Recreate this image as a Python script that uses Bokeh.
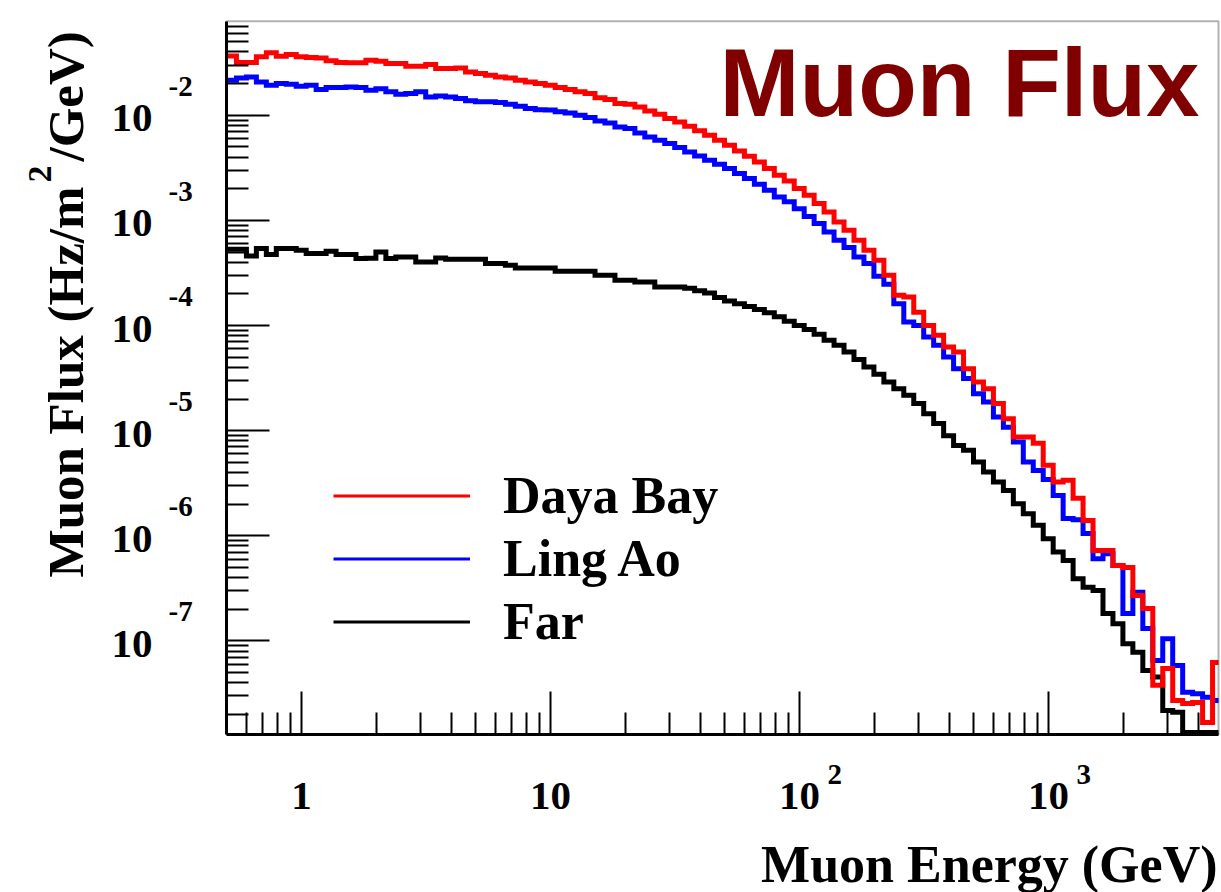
import math
import numpy as np
from bokeh.plotting import figure
from bokeh.models import (Range1d, FixedTicker, Label, Legend, LegendItem, ColumnDataSource,
                          CustomJSTickFormatter, BoxAnnotation, LogScale, LogAxis)
from bokeh.embed import file_html
from bokeh.resources import INLINE

# ---------------- data ----------------
bin_low = 0.5
bin_high = 5000.0
n_bins = 100

daya_bay = [3.66e-2, 3.17e-2, 3.17e-2, 3.59e-2, 3.92e-2, 3.64e-2, 3.78e-2, 3.59e-2, 3.54e-2, 3.51e-2,
            3.29e-2, 3.17e-2, 3.15e-2, 3.15e-2, 3.34e-2, 3.26e-2, 3.10e-2, 3.10e-2, 2.92e-2, 2.92e-2,
            3.04e-2, 2.78e-2, 2.78e-2, 2.82e-2, 2.58e-2, 2.49e-2, 2.40e-2, 2.31e-2, 2.26e-2, 2.15e-2,
            2.07e-2, 2.00e-2, 1.93e-2, 1.84e-2, 1.76e-2, 1.67e-2, 1.61e-2, 1.47e-2, 1.41e-2, 1.29e-2,
            1.27e-2, 1.20e-2, 1.10e-2, 1.02e-2, 9.31e-3, 8.63e-3, 7.85e-3, 7.10e-3, 6.45e-3, 5.78e-3,
            5.19e-3, 4.57e-3, 4.07e-3, 3.60e-3, 3.11e-3, 2.69e-3, 2.37e-3, 2.01e-3, 1.73e-3, 1.45e-3,
            1.20e-3, 9.66e-4, 8.05e-4, 6.47e-4, 5.20e-4, 4.17e-4, 3.01e-4, 1.94e-4, 1.87e-4, 1.34e-4,
            1.00e-4, 8.07e-5, 6.24e-5, 5.60e-5, 3.89e-5, 2.90e-5, 2.51e-5, 1.81e-5, 1.30e-5, 8.69e-6,
            8.69e-6, 7.57e-6, 4.68e-6, 3.24e-6, 3.37e-6, 2.27e-6, 1.40e-6, 7.26e-7, 7.26e-7, 5.23e-7,
            5.00e-7, 2.71e-7, 2.04e-7, 3.78e-8, 5.48e-8, 2.72e-8, 2.54e-8, 2.60e-8, 1.68e-8, 6.25e-8]

ling_ao = [2.15e-2, 2.26e-2, 2.31e-2, 2.07e-2, 1.93e-2, 2.00e-2, 1.97e-2, 1.89e-2, 1.93e-2, 1.76e-2,
           1.84e-2, 1.84e-2, 1.86e-2, 1.84e-2, 1.73e-2, 1.79e-2, 1.67e-2, 1.58e-2, 1.61e-2, 1.67e-2,
           1.49e-2, 1.52e-2, 1.49e-2, 1.44e-2, 1.37e-2, 1.34e-2, 1.34e-2, 1.32e-2, 1.27e-2, 1.22e-2,
           1.16e-2, 1.13e-2, 1.12e-2, 1.08e-2, 1.05e-2, 1.00e-2, 9.51e-3, 8.83e-3, 8.45e-3, 7.74e-3,
           7.46e-3, 6.79e-3, 6.22e-3, 5.78e-3, 5.38e-3, 4.93e-3, 4.48e-3, 4.10e-3, 3.73e-3, 3.42e-3,
           3.11e-3, 2.79e-3, 2.50e-3, 2.20e-3, 1.93e-3, 1.67e-3, 1.50e-3, 1.29e-3, 1.09e-3, 9.33e-4,
           7.76e-4, 6.47e-4, 5.51e-4, 4.49e-4, 3.88e-4, 2.94e-4, 2.47e-4, 1.61e-4, 1.08e-4, 1.00e-4,
           7.78e-5, 6.49e-5, 5.01e-5, 3.89e-5, 3.13e-5, 2.25e-5, 1.87e-5, 1.35e-5, 1.08e-5, 7.80e-6,
           5.03e-6, 4.19e-6, 3.44e-6, 2.42e-6, 1.46e-6, 1.42e-6, 1.05e-6, 6.05e-7, 6.76e-7, 5.23e-7,
           1.82e-7, 2.91e-7, 1.31e-7, 6.52e-8, 1.05e-7, 5.85e-8, 3.26e-8, 3.15e-8, 2.92e-8, 2.72e-8]

far = [5.31e-4, 5.31e-4, 4.58e-4, 5.40e-4, 4.73e-4, 5.40e-4, 5.40e-4, 5.20e-4, 4.83e-4, 4.83e-4,
       5.08e-4, 4.73e-4, 4.73e-4, 4.33e-4, 4.36e-4, 5.00e-4, 4.33e-4, 4.49e-4, 4.49e-4, 4.02e-4,
       4.02e-4, 4.39e-4, 4.27e-4, 4.27e-4, 4.27e-4, 4.27e-4, 3.88e-4, 3.88e-4, 3.74e-4, 3.52e-4,
       3.52e-4, 3.52e-4, 3.52e-4, 3.28e-4, 3.28e-4, 3.28e-4, 3.28e-4, 3.01e-4, 3.01e-4, 2.69e-4,
       2.69e-4, 2.60e-4, 2.60e-4, 2.32e-4, 2.32e-4, 2.32e-4, 2.26e-4, 2.14e-4, 2.04e-4, 1.85e-4,
       1.71e-4, 1.61e-4, 1.52e-4, 1.42e-4, 1.32e-4, 1.21e-4, 1.10e-4, 1.00e-4, 9.14e-5, 8.24e-5,
       7.23e-5, 6.49e-5, 5.60e-5, 4.74e-5, 4.03e-5, 3.44e-5, 2.90e-5, 2.51e-5, 2.17e-5, 1.81e-5,
       1.45e-5, 1.17e-5, 8.93e-6, 7.24e-6, 6.50e-6, 5.03e-6, 4.04e-6, 3.24e-6, 2.70e-6, 2.02e-6,
       1.62e-6, 1.26e-6, 9.38e-7, 7.00e-7, 5.83e-7, 3.91e-7, 3.25e-7, 3.02e-7, 1.82e-7, 1.46e-7,
       9.40e-8, 7.82e-8, 5.24e-8, 4.53e-8, 2.18e-8, 2.10e-8, 1.35e-8, 1.35e-8, 1.35e-8, 1.35e-8]

series_names = ["Daya Bay", "Ling Ao", "Far"]
series_colors = ["#ff0000", "#0000ff", "#000000"]

x_major_ticks = [1, 10, 100, 1000]
x_tick_bases = ["1", "10", "10", "10"]
x_tick_exponents = ["", "", "2", "3"]
y_major_ticks = [1e-2, 1e-3, 1e-4, 1e-5, 1e-6, 1e-7]
y_tick_exponents = ["-2", "-3", "-4", "-5", "-6", "-7"]

x_title = "Muon Energy (GeV)"
y_title_parts = ["Muon Flux (Hz/m", "2", "/GeV)"]
chart_title = "Muon Flux"

# ---------------- layout ----------------
W, H = 1221, 892
BOX_L, BOX_R, BOX_T, BOX_B = 226.0, 1218.0, 20.7, 734.0   # pixel box of the axes frame
XMIN, XMAX = 0.5, 4818.0
YMIN, YMAX = 1.289e-8, 0.0784
SERIF = "Liberation Serif"
INK = "#000000"

# the frame covers the whole canvas; the axes are drawn at fixed data locations
lx0, lx1 = math.log10(XMIN), math.log10(XMAX)
ly0, ly1 = math.log10(YMIN), math.log10(YMAX)
kx = (lx1 - lx0) / (BOX_R - BOX_L)
ky = (ly1 - ly0) / (BOX_B - BOX_T)
x_canvas = (10 ** (lx0 - BOX_L * kx), 10 ** (lx0 + (W - BOX_L) * kx))
y_canvas = (10 ** (ly0 - (H - BOX_B) * ky), 10 ** (ly0 + BOX_B * ky))

p = figure(width=W, height=H, x_axis_type=None, y_axis_type=None,
           x_range=Range1d(*x_canvas), y_range=Range1d(*y_canvas),
           output_backend="svg", toolbar_location=None, title=None,
           min_border=0)
p.x_scale = LogScale()
p.y_scale = LogScale()
p.background_fill_color = "white"
p.border_fill_color = "white"
p.outline_line_color = None

x_minor = [m * 10.0 ** k for k in range(-1, 4) for m in range(2, 10) if XMIN < m * 10.0 ** k < XMAX]
y_minor = [m * 10.0 ** k for k in range(-9, -1) for m in range(2, 10) if YMIN < m * 10.0 ** k < YMAX]

xaxis = LogAxis(fixed_location=YMIN, bounds=(XMIN, XMAX),
                ticker=FixedTicker(ticks=x_major_ticks, minor_ticks=x_minor))
yaxis = LogAxis(fixed_location=XMIN, bounds=(YMIN, YMAX),
                ticker=FixedTicker(ticks=y_major_ticks, minor_ticks=y_minor))
for ax in (xaxis, yaxis):
    ax.formatter = CustomJSTickFormatter(code="return ''")
    ax.major_label_text_font_size = "10px"
    ax.axis_line_width = 3
    ax.axis_line_color = INK
    ax.major_tick_in = 43
    ax.major_tick_out = 0
    ax.minor_tick_in = 22
    ax.minor_tick_out = 0
    ax.major_tick_line_width = 2
    ax.minor_tick_line_width = 2
    ax.major_tick_line_color = INK
    ax.minor_tick_line_color = INK

edges = np.minimum(np.logspace(np.log10(bin_low), np.log10(bin_high), n_bins + 1), XMAX)


def stairs(vals):
    xs, ys = [], []
    for i, v in enumerate(vals):
        xs += [edges[i], edges[i + 1]]
        ys += [v, v]
    return xs, ys


for vals, col in zip([far, ling_ao, daya_bay], ["#000000", "#0000ff", "#ff0000"]):
    xs, ys = stairs(vals)
    p.line(x="x", y="y", source=ColumnDataSource(dict(x=xs, y=ys)),
           line_color=col, line_width=5, line_join="miter")

# frame box
p.add_layout(BoxAnnotation(left=XMIN, right=XMAX, bottom=YMIN, top=YMAX,
                           fill_alpha=0, line_color=INK, line_width=2))
p.add_layout(xaxis, "below")
p.add_layout(yaxis, "left")

# legend with thinner lines (renderers without visible data, used only for the legend)
items = []
for name, col in zip(series_names, series_colors):
    r = p.line(x=[1.0], y=[1e-14], line_color=col, line_width=3)
    items.append(LegendItem(label=name, renderers=[r]))
legend = Legend(items=items, location=(333, H - 652.5), orientation="vertical",
                glyph_width=137, glyph_height=63, label_height=63, label_standoff=33,
                spacing=0, padding=0, margin=0, border_line_color=None,
                background_fill_alpha=0,
                label_text_font=SERIF, label_text_font_style="bold",
                label_text_font_size="52px", label_text_color=INK)
p.add_layout(legend)


def add_text(x, y, text, size, dx=0, dy=0, align="left", angle=0.0,
             font=SERIF, color=INK):
    p.add_layout(Label(x=x, y=y, x_offset=dx, y_offset=dy, text=text, angle=angle,
                       text_align=align, text_baseline="middle", text_color=color,
                       text_font=font, text_font_style="bold", text_font_size=size))


# tick labels (ROOT style "10" + raised exponent)
for t, e in zip(y_major_ticks, y_tick_exponents):
    add_text(XMIN, t, "10", "41px", dx=-74, dy=-3, align="right")
    add_text(XMIN, t, e, "29px", dx=-58, dy=29, align="left")

for t, b, e in zip(x_major_ticks, x_tick_bases, x_tick_exponents):
    add_text(t, YMIN, b, "41px", dy=-61, align="center")
    if e:
        add_text(t, YMIN, e, "29px", dx=28, dy=-40, align="left")

# axis titles
add_text(XMAX, YMIN, x_title, "52px", dx=-1, dy=-130, align="right")
add_text(XMIN, YMIN, y_title_parts[0], "51px", dx=-161, dy=157, angle=math.pi / 2)
add_text(XMIN, YMIN, y_title_parts[1], "34px", dx=-187, dy=552, angle=math.pi / 2)
add_text(XMIN, YMIN, y_title_parts[2], "51px", dx=-161, dy=573, angle=math.pi / 2)

# big title
add_text(XMAX, YMAX, chart_title, "96px", dx=-19, dy=-61, align="right",
         font="Liberation Sans", color="#800000")

open("out.html", "w").write(file_html(p, INLINE))
